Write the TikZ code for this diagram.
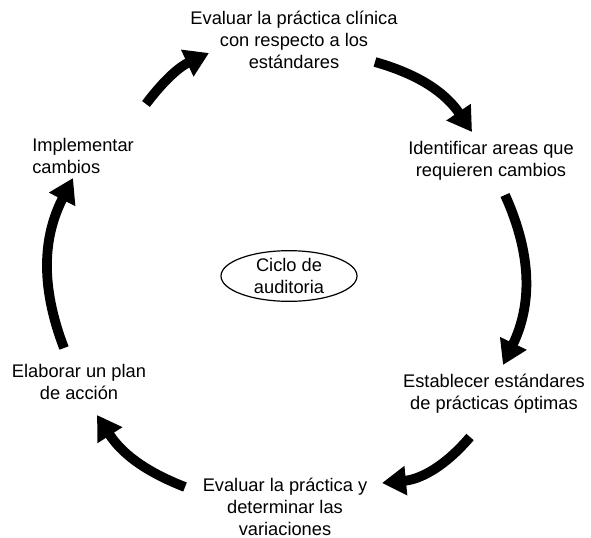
\documentclass[tikz,border=0pt]{standalone}
\usepackage{fontspec}
\setmainfont{Liberation Sans}
\usetikzlibrary{arrows.meta, positioning, shapes.geometric}
\tikzset{
    x=0.75pt, y=0.75pt, % one unit is one pixel of the drawing
    every node/.style={font=\fontsize{13.7}{16.3}\selectfont, align=center, inner sep=0pt}, % text of the steps
    stage/.style={align=center}, % a step of the cycle
    hub/.style={ellipse, draw, line width=0.9pt, minimum width=102pt, minimum height=38pt}, % the centre
}
\tikzstyle{cyclearrow} = [line width=7.3pt, -{Triangle[length=18pt, width=21pt]}]

\begin{document}
\begin{tikzpicture}
    \useasboundingbox (0,0) rectangle (591,537);

    \node[hub] (ciclo) at (289,261) {Ciclo de\\auditoria};

    \node[stage] (evalp) at (294,497) {Evaluar la práctica clínica\\con respecto a los\\estándares};
    \node[stage] (ident) at (491,376) {Identificar areas que\\requieren cambios};
    \node[stage] (estab) at (494,143) {Establecer estándares\\de prácticas óptimas};
    \node[stage] (evalv) at (285,30) {Evaluar la práctica y\\determinar las\\variaciones};
    \node[stage] (plan) at (79,155) {Elaborar un plan\\de acción};
    \node[stage, anchor=west, align=left] (impl) at (32,381) {Implementar\\cambios};

    % ends of the arrows
    \coordinate (t1) at (146,433); \coordinate (h1) at (209,484);
    \coordinate (t2) at (375,475); \coordinate (h2) at (472,405);
    \coordinate (t3) at (505,342); \coordinate (h3) at (503,172);
    \coordinate (t4) at (470,100); \coordinate (h4) at (382,54);
    \coordinate (t5) at (185,50);  \coordinate (h5) at (97,122);
    \coordinate (t6) at (64,189);  \coordinate (h6) at (73,359);

    \draw[cyclearrow] (t1) to[bend left=14] (h1);
    \draw[cyclearrow] (t2) to[bend left=20] (h2);
    \draw[cyclearrow] (t3) to[bend left=25] (h3);
    \draw[cyclearrow] (t4) to[bend left=22] (h4);
    \draw[cyclearrow] (t5) to[bend left=18] (h5);
    \draw[cyclearrow] (t6) to[bend left=24] (h6);
\end{tikzpicture}
\end{document}
